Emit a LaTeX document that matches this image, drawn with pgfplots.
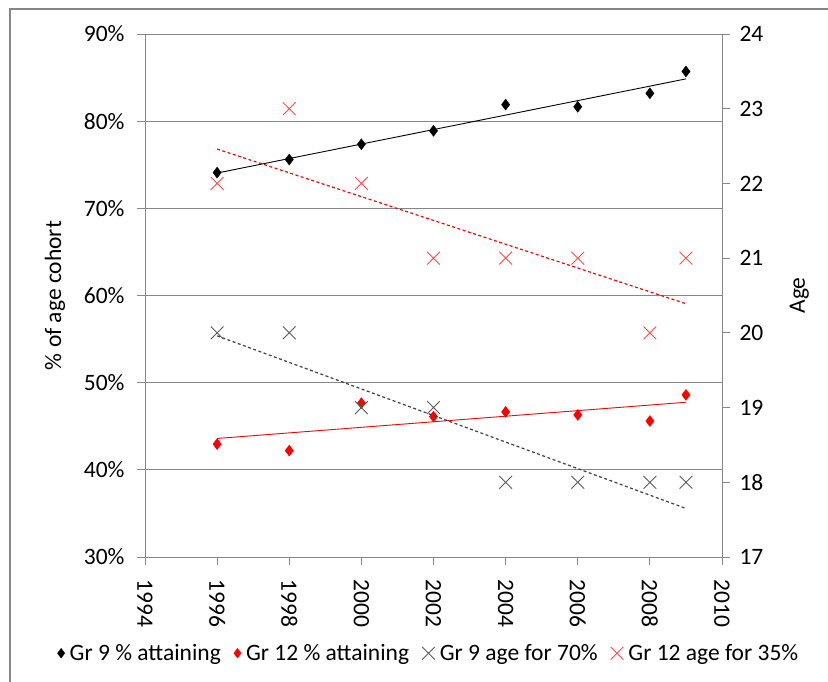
\documentclass[border=0pt]{standalone}
\usepackage{fontspec}
\setmainfont{Carlito}
\usepackage{pgfplots}
\pgfplotsset{compat=1.18}
\definecolor{gridgray}{HTML}{868686}
\definecolor{xgray}{HTML}{5A5A5A}
\definecolor{xred}{HTML}{FF4A4A}
\definecolor{dgray}{HTML}{404040}
\pgfplotsset{
  common/.style={
    at={(145pt,124pt)}, anchor=south west, scale only axis,
    width=577pt, height=523pt,
    xmin=1994, xmax=2010,
    font=\fontsize{23.5pt}{27pt}\selectfont,
    /pgf/number format/assume math mode=true,
    /pgf/number format/1000 sep={},
    tick align=outside, major tick length=8pt,
    axis line style={gridgray, line width=0.9pt},
    tick style={gridgray, line width=0.9pt},
    clip=false,
  },
}
\begin{document}
\begin{tikzpicture}[x=1pt,y=1pt]
\useasboundingbox (0,0) rectangle (828,681);
\draw[gridgray, line width=1.6pt] (10,-5) -- (10,672) -- (835,672);
\begin{axis}[common,
  ymin=30, ymax=90, ytick={30,40,...,90},
  yticklabel={\pgfmathprintnumber{\tick}\%},
  yticklabel shift=9pt, xticklabel shift=11pt,
  xtick={1994,1996,...,2010},
  axis x line*=bottom, axis y line*=left,
  x tick label style={rotate=-90, anchor=west},
  ymajorgrids, grid style={gridgray, line width=0.9pt},
  ylabel={\% of age cohort},
  every axis y label/.style={at={(axis description cs:-0.156,0.5)}, rotate=90, anchor=center},
]
\addplot[black, line width=0.9pt] coordinates {(1996,74.05) (2009,84.85)};
\addplot[red, line width=0.9pt] coordinates {(1996,43.6) (2009,47.75)};
\addplot[only marks, mark=diamond*, mark size=5.5pt, black] coordinates {
(1996,74.1) (1998,75.6) (2000,77.35) (2002,78.9) (2004,81.9) (2006,81.65) (2008,83.2) (2009,85.7)};
\addplot[only marks, mark=diamond*, mark size=5.5pt, red] coordinates {
(1996,42.95) (1998,42.2) (2000,47.65) (2002,46.1) (2004,46.65) (2006,46.3) (2008,45.6) (2009,48.6)};
\end{axis}
\begin{axis}[common,
  ymin=17, ymax=24, ytick={17,18,...,24},
  yticklabel shift=6pt,
  axis x line=none, axis y line*=right,
  ylabel={Age},
  every axis y label/.style={at={(axis description cs:1.134,0.5)}, rotate=90, anchor=center},
  legend columns=4,
  legend style={at={(axis description cs:0.492,-0.184)}, anchor=center, draw=none,
    font=\fontsize{23.5pt}{27pt}\selectfont, inner sep=0pt,
    /tikz/every odd column/.append style={column sep=3pt},
    /tikz/every even column/.append style={column sep=11pt}},
  legend cell align=left,
  legend image code/.code={\draw[mark repeat=2,mark phase=2,#1] plot coordinates {(-5pt,0pt)(0pt,0pt)(5pt,0pt)};},
]
\addlegendimage{only marks, mark=diamond*, mark size=4.8pt, black}
\addlegendentry{Gr 9 \% attaining}
\addlegendimage{only marks, mark=diamond*, mark size=4.8pt, red}
\addlegendentry{Gr 12 \% attaining}
\addplot[forget plot, dgray, line width=1.2pt, dash pattern=on 3pt off 2.5pt] coordinates {(1996,19.96) (2009,17.65)};
\addplot[forget plot, red, line width=1.2pt, dash pattern=on 3pt off 2.5pt] coordinates {(1996,22.46) (2009,20.39)};
\addplot[only marks, mark=x, mark size=9pt, xgray, mark options={line width=0.9pt}] coordinates {
(1996,20) (1998,20) (2000,19) (2002,19) (2004,18) (2006,18) (2008,18) (2009,18)};
\addlegendentry{Gr 9 age for 70\%}
\addplot[only marks, mark=x, mark size=9pt, xred, mark options={line width=0.9pt}] coordinates {
(1996,22) (1998,23) (2000,22) (2002,21) (2004,21) (2006,21) (2008,20) (2009,21)};
\addlegendentry{Gr 12 age for 35\%}
\end{axis}
\end{tikzpicture}
\end{document}
